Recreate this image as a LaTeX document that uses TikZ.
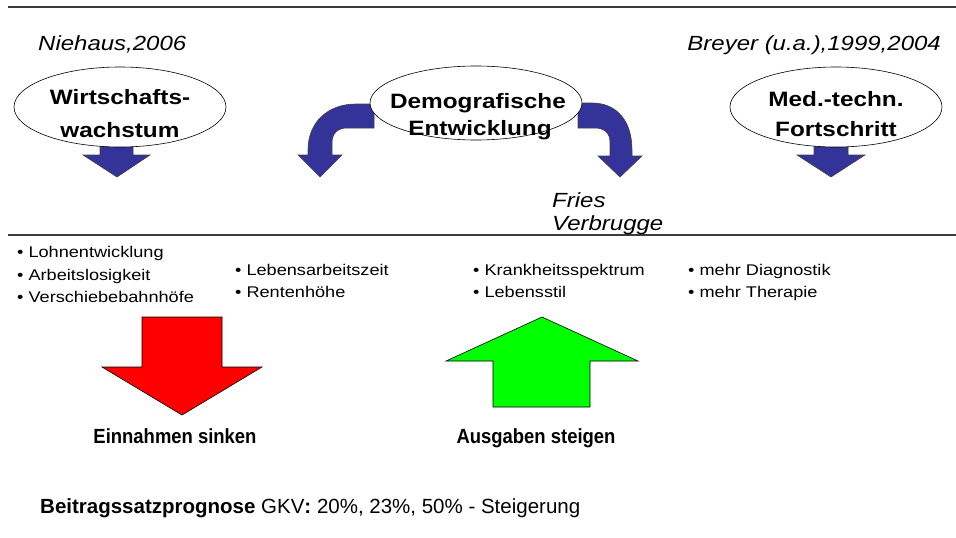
\documentclass[tikz,border=0pt]{standalone}
\usepackage{fontspec}
\usepackage{graphicx}
\setmainfont{Liberation Sans}
\usetikzlibrary{shapes.geometric}

\definecolor{arrowblue}{RGB}{51,51,153}
\definecolor{downred}{RGB}{255,0,0}
\definecolor{upgreen}{RGB}{0,255,0}
\definecolor{rulegray}{RGB}{60,60,60}

% horizontally widened text
\newcommand{\wide}[1]{\scalebox{1.17}[1]{#1}}
\newcommand{\narrow}[1]{\scalebox{0.9}[1]{#1}}

\tikzset{
  rule/.style={draw=rulegray, line width=1.1pt},
  bluearrow/.style={fill=arrowblue, draw=black!75, line width=0.6pt},
  bigarrow/.style={draw=black, line width=0.6pt},
  factor/.style={ellipse, draw=black, line width=0.6pt, fill=white, inner sep=0pt},
  factortext/.style={anchor=base, inner sep=0pt, font=\fontsize{20.8}{24}\bfseries},
  source/.style={anchor=base west, inner sep=0pt, font=\fontsize{20.5}{24}\itshape},
  bullet/.style={anchor=base west, inner sep=0pt, font=\fontsize{15.5}{18}\selectfont},
  result/.style={anchor=base, inner sep=0pt, font=\fontsize{20.5}{24}\bfseries},
}

\begin{document}
\begin{tikzpicture}[x=1pt,y=-1pt]
\useasboundingbox (0,0) rectangle (956,538);

% horizontal rules
\draw[rule] (8,7) -- (956,7);
\draw[rule] (8,235) -- (956,235);

% sources
\node[source] (niehaus) at (38,50) {\wide{Niehaus,2006}};
\node[source, anchor=base east] (breyer) at (941,50) {\wide{Breyer (u.a.),1999,2004}};
\node[source] (fries) at (552,207) {\wide{Fries}};
\node[source] (verbrugge) at (552,230) {\wide{Verbrugge}};

% blue block arrows (behind the ellipses)
\fill[bluearrow] (100,140) -- (133,140) -- (133,155) -- (150,155) -- (117,177)
  -- (83,155) -- (100,155) -- cycle;
\fill[bluearrow] (814,140) -- (848,140) -- (848,155) -- (865,155) -- (831,177)
  -- (797,155) -- (814,155) -- cycle;
\filldraw[bluearrow] (374,104) -- (356,104) .. controls (328,104) and (308,122) .. (308,150)
  -- (308,155) -- (298,155) -- (320,177) -- (342,155) -- (332,155) -- (332,143)
  .. controls (332,134) and (337,128) .. (347,128) -- (374,128) -- cycle;
\filldraw[bluearrow] (578,103) -- (592,103) .. controls (616,103) and (632,120) .. (632,150)
  -- (632,156) -- (642,156) -- (620,177) -- (598,156) -- (610,156) -- (610,142)
  .. controls (610,133) and (604,128) .. (595,128) -- (578,128) -- cycle;

% factor ellipses
\node[factor, minimum width=212pt, minimum height=80pt] (wachstum) at (120,107) {};
\node[factor, minimum width=212pt, minimum height=74pt] (demografie) at (476,103) {};
\node[factor, minimum width=212pt, minimum height=80pt] (fortschritt) at (836,107) {};

\node[factortext] (w1) at (120,104) {\wide{Wirtschafts-}};
\node[factortext] (w2) at (120,137) {\wide{wachstum}};
\node[factortext] (d1) at (478,108) {\wide{Demografische}};
\node[factortext] (d2) at (480,135) {\wide{Entwicklung}};
\node[factortext] (f1) at (836,106) {\wide{Med.-techn.}};
\node[factortext] (f2) at (836,136) {\wide{Fortschritt}};

% bullet lists
\node[bullet] (b1) at (17,257) {\wide{\textbullet\ Lohnentwicklung}};
\node[bullet] (b2) at (17,280) {\wide{\textbullet\ Arbeitslosigkeit}};
\node[bullet] (b3) at (17,302) {\wide{\textbullet\ Verschiebebahnhöfe}};
\node[bullet] (b4) at (235,275) {\wide{\textbullet\ Lebensarbeitszeit}};
\node[bullet] (b5) at (235,297) {\wide{\textbullet\ Rentenhöhe}};
\node[bullet] (b6) at (473,275) {\wide{\textbullet\ Krankheitsspektrum}};
\node[bullet] (b7) at (473,297) {\wide{\textbullet\ Lebensstil}};
\node[bullet] (b8) at (688,275) {\wide{\textbullet\ mehr Diagnostik}};
\node[bullet] (b9) at (688,297) {\wide{\textbullet\ mehr Therapie}};

% large arrows
\filldraw[bigarrow, fill=downred] (142,317) -- (222,317) -- (222,367) -- (262,367)
  -- (182,415) -- (102,367) -- (142,367) -- cycle;
\filldraw[bigarrow, fill=upgreen] (542,317) -- (638,361) -- (590,361) -- (590,407)
  -- (493,407) -- (493,361) -- (446,361) -- cycle;

\node[result] (einnahmen) at (175,443) {\narrow{Einnahmen sinken}};
\node[result] (ausgaben) at (536,443) {\narrow{Ausgaben steigen}};

% forecast line
\node[anchor=base west, inner sep=0pt, font=\fontsize{20.5}{24}\selectfont] (prognose) at (40,513)
  {\textbf{Beitragssatzprognose} GKV\textbf{:} 20\%, 23\%, 50\% - Steigerung};
\end{tikzpicture}
\end{document}
